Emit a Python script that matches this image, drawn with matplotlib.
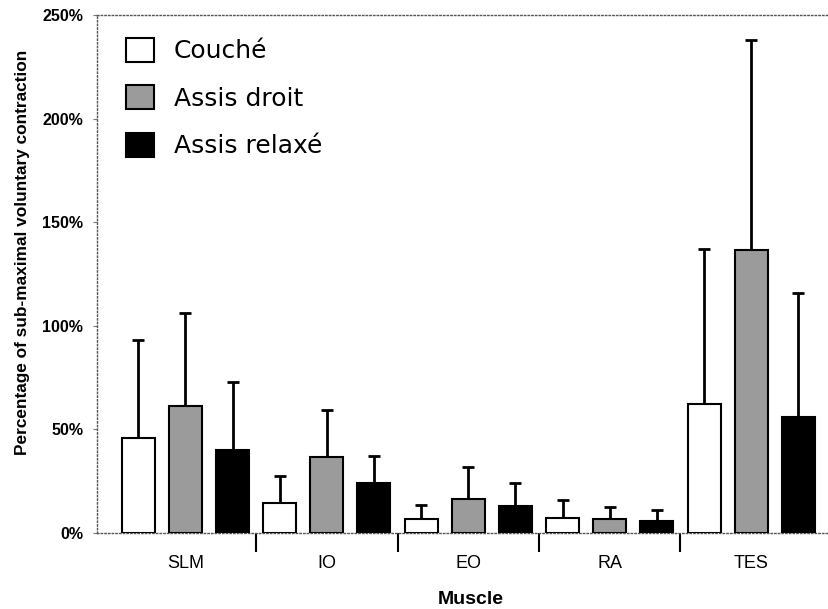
import numpy as np
import matplotlib.pyplot as plt
from matplotlib.ticker import FixedLocator, PercentFormatter

# ----------------------------
# Données
# ----------------------------
muscles = ["SLM", "IO", "EO", "RA", "TES"]
series = ["Couché", "Assis droit", "Assis relaxé"]

couche = [45.7, 14.6, 6.8, 7.4, 62.3]
assis_droit = [61.4, 36.8, 16.4, 6.6, 136.6]
assis_relaxe = [40.0, 24.3, 13.0, 5.9, 56.0]

err_couche = [47.3, 12.9, 6.7, 8.5, 74.7]
err_assis_droit = [44.6, 22.6, 15.3, 6.1, 101.4]
err_assis_relaxe = [33.0, 12.9, 11.0, 5.2, 60.0]

yticks = [0, 50, 100, 150, 200, 250]

# ----------------------------
# Style
# ----------------------------
colors = ["white", "#9b9b9b", "black"]
width = 0.233
offsets = [-0.333, 0.0, 0.333]


def main() -> None:
    fig = plt.figure(figsize=(8.29, 6.09), dpi=100)
    ax = fig.add_axes([0.117, 0.125, 0.883, 0.85])

    x = np.arange(len(muscles))
    values = [couche, assis_droit, assis_relaxe]
    errors = [err_couche, err_assis_droit, err_assis_relaxe]

    for vals, errs, col, off, lab in zip(values, errors, colors, offsets, series):
        ax.bar(x + off, vals, width=width, color=col, edgecolor="black",
               linewidth=1.5, label=lab, zorder=3,
               yerr=[np.zeros(len(errs)), errs],
               error_kw=dict(ecolor="black", elinewidth=2.0, capsize=4,
                             capthick=2.0, zorder=2))

    ax.set_xlim(-0.625, 4.55)
    ax.set_ylim(0, 250)
    ax.yaxis.set_major_locator(FixedLocator(yticks))
    ax.yaxis.set_major_formatter(PercentFormatter(decimals=0))

    # séparateurs entre catégories
    ax.set_xticks(x)
    ax.set_xticklabels(muscles, fontsize=13, family="Liberation Sans")
    ax.set_xticks(x[:-1] + 0.5, minor=True)
    ax.tick_params(axis="x", which="major", length=0, pad=16)
    ax.tick_params(axis="x", which="minor", length=14, width=1.5,
                   color="black")
    ax.tick_params(axis="y", length=3, color="#777777", labelsize=11.5,
                   pad=7)
    for t in ax.get_yticklabels():
        t.set_family("Liberation Sans")
        t.set_fontweight("bold")

    for side in ["left", "bottom", "top"]:
        ax.spines[side].set_linestyle(":")
        ax.spines[side].set_color("#555555")
        ax.spines[side].set_linewidth(1.0)
    ax.spines["right"].set_visible(False)

    ax.set_ylabel("Percentage of sub-maximal voluntary contraction",
                  fontsize=12.4, fontweight="bold", family="Liberation Sans")
    ax.yaxis.set_label_coords(-0.091, 0.542)
    ax.set_xlabel("Muscle", fontsize=14, fontweight="bold",
                  family="Liberation Sans")
    ax.xaxis.set_label_coords(0.51, -0.112)

    ax.legend(loc="upper left", frameon=False, fontsize=18,
              handlelength=1.1, handleheight=1.1, handletextpad=0.8,
              labelspacing=0.88, borderaxespad=0.6,
              bbox_to_anchor=(0.006, 1.005))

    fig.savefig("out.png", dpi=100)


if __name__ == "__main__":
    main()
